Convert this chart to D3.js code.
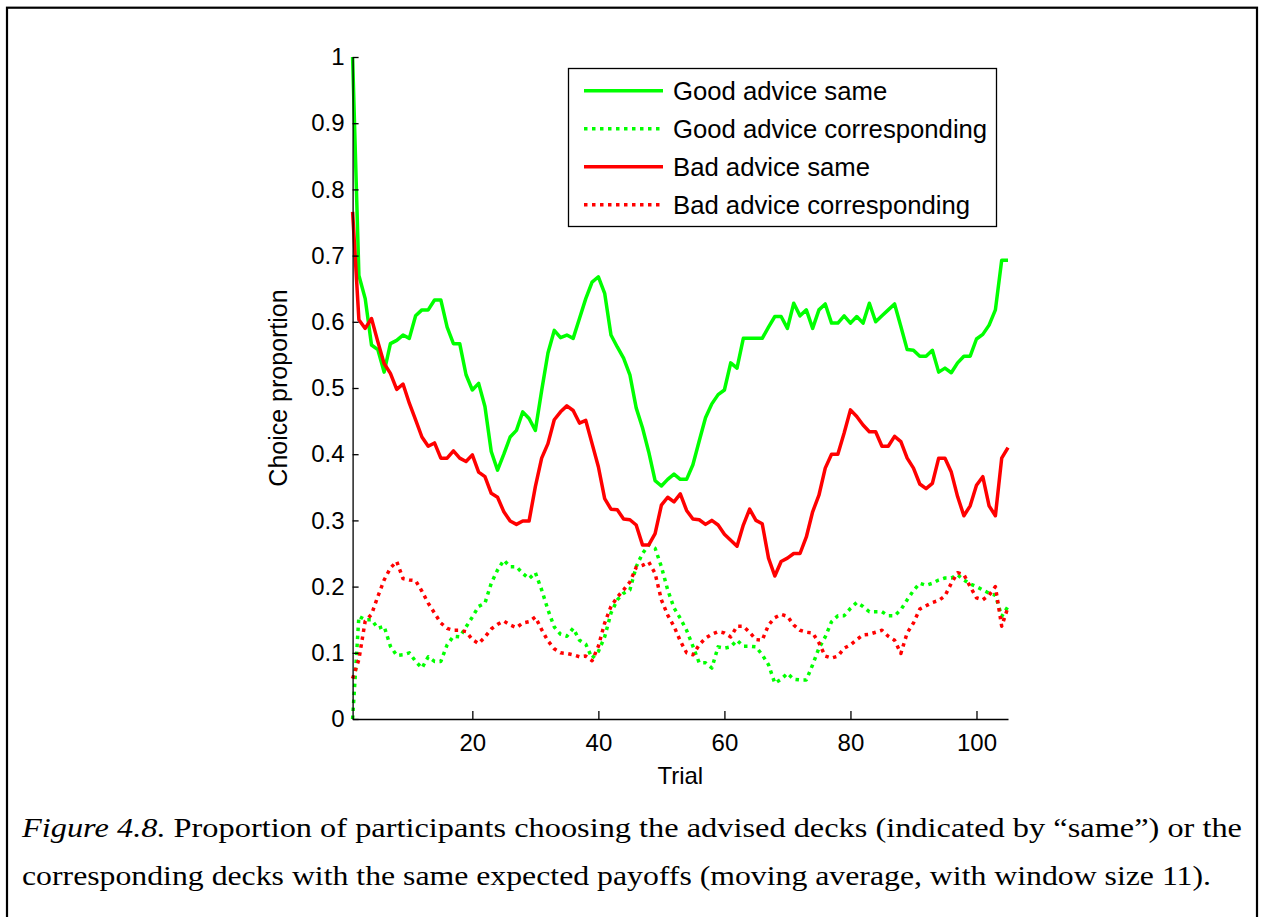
<!DOCTYPE html>
<html>
<head>
<meta charset="utf-8">
<script src="https://cdn.jsdelivr.net/npm/d3@7"></script>
<style>
  html, body { margin: 0; padding: 0; background: #fff; }
  svg { display: block; }
  .sans { font-family: Arial, "Liberation Sans", Helvetica, sans-serif; }
  .serif { font-family: "Times New Roman", "Liberation Serif", serif; }
</style>
</head>
<body>
<svg id="chart" width="1263" height="917"></svg>
<script>
// ---- data ----
const trials = d3.range(1, 106);
const seriesNames = ["Good advice same", "Good advice corresponding", "Bad advice same", "Bad advice corresponding"];
const goodSame = [1.0,0.67,0.635,0.565,0.558,0.524,0.567,0.572,0.58,0.575,
  0.609,0.618,0.618,0.633,0.633,0.592,0.567,0.567,0.52,0.497,
  0.507,0.472,0.404,0.376,0.40,0.426,0.436,0.464,0.454,0.436,
  0.496,0.553,0.587,0.576,0.58,0.575,0.605,0.635,0.66,0.668,
  0.643,0.58,0.562,0.545,0.52,0.47,0.44,0.403,0.36,0.352,
  0.362,0.37,0.362,0.362,0.384,0.42,0.455,0.476,0.49,0.497,
  0.538,0.53,0.575,0.575,0.575,0.575,0.592,0.608,0.608,0.59,
  0.628,0.609,0.618,0.59,0.618,0.627,0.598,0.598,0.609,0.598,
  0.608,0.598,0.628,0.6,0.609,0.618,0.627,0.593,0.558,0.557,
  0.548,0.548,0.557,0.524,0.53,0.523,0.538,0.548,0.548,0.574,
  0.581,0.595,0.618,0.693,0.693];
const goodCorr = [0,0.155,0.15,0.15,0.137,0.14,0.11,0.096,0.097,0.1,
  0.087,0.077,0.094,0.087,0.087,0.112,0.125,0.124,0.139,0.154,
  0.17,0.175,0.205,0.225,0.24,0.23,0.23,0.22,0.212,0.221,
  0.195,0.165,0.139,0.128,0.125,0.137,0.119,0.113,0.092,0.102,
  0.124,0.16,0.18,0.19,0.195,0.23,0.25,0.263,0.258,0.23,
  0.195,0.168,0.152,0.134,0.11,0.085,0.085,0.077,0.109,0.107,
  0.109,0.119,0.11,0.11,0.109,0.097,0.082,0.054,0.06,0.069,
  0.06,0.059,0.059,0.082,0.107,0.124,0.147,0.156,0.156,0.167,
  0.176,0.17,0.162,0.162,0.162,0.156,0.156,0.165,0.18,0.194,
  0.205,0.202,0.205,0.21,0.213,0.213,0.218,0.21,0.204,0.2,
  0.195,0.19,0.187,0.155,0.17];
const badSame = [0.766,0.603,0.59,0.605,0.57,0.537,0.522,0.498,0.506,0.477,
  0.452,0.426,0.412,0.417,0.394,0.394,0.405,0.394,0.389,0.399,
  0.373,0.366,0.341,0.335,0.313,0.299,0.294,0.299,0.299,0.351,
  0.394,0.416,0.452,0.464,0.473,0.466,0.447,0.451,0.416,0.381,
  0.333,0.317,0.316,0.302,0.301,0.293,0.263,0.263,0.28,0.323,
  0.335,0.328,0.34,0.315,0.302,0.301,0.294,0.3,0.293,0.279,
  0.27,0.261,0.293,0.317,0.3,0.295,0.243,0.216,0.238,0.243,
  0.25,0.25,0.275,0.313,0.338,0.379,0.4,0.4,0.432,0.467,
  0.457,0.444,0.434,0.434,0.412,0.412,0.427,0.419,0.394,0.379,
  0.355,0.348,0.356,0.394,0.394,0.373,0.336,0.307,0.322,0.353,
  0.366,0.322,0.307,0.394,0.41];
const badCorr = [0.061,0.09,0.148,0.158,0.185,0.21,0.228,0.238,0.212,0.21,
  0.209,0.193,0.175,0.16,0.145,0.137,0.134,0.134,0.132,0.12,
  0.114,0.124,0.136,0.143,0.148,0.142,0.138,0.145,0.147,0.154,
  0.135,0.118,0.106,0.1,0.099,0.097,0.094,0.095,0.088,0.11,
  0.145,0.17,0.184,0.195,0.207,0.229,0.232,0.237,0.22,0.18,
  0.157,0.14,0.118,0.1,0.097,0.112,0.122,0.128,0.132,0.13,
  0.124,0.14,0.14,0.131,0.12,0.119,0.142,0.153,0.158,0.155,
  0.142,0.134,0.131,0.13,0.115,0.095,0.092,0.095,0.107,0.112,
  0.12,0.127,0.128,0.131,0.134,0.125,0.119,0.099,0.13,0.145,
  0.166,0.171,0.176,0.179,0.186,0.205,0.221,0.218,0.2,0.183,
  0.18,0.187,0.2,0.14,0.169];
const xTicks = [20, 40, 60, 80, 100];
const yTicks = [0, 0.1, 0.2, 0.3, 0.4, 0.5, 0.6, 0.7, 0.8, 0.9, 1];

// ---- drawing ----
const svg = d3.select("#chart");
svg.append("rect").attr("width", 1263).attr("height", 917).attr("fill", "#fff");
// outer frame
svg.append("rect").attr("x", 7).attr("y", 7.7).attr("width", 1250).attr("height", 1000)
  .attr("fill", "none").attr("stroke", "#000").attr("stroke-width", 2.2);

const x = d3.scaleLinear().domain([1, 105]).range([352.6, 1008]);
const y = d3.scaleLinear().domain([0, 1]).range([719, 57]);

const series = [
  {name: seriesNames[0], values: goodSame, color: "#00ff00", dash: null},
  {name: seriesNames[1], values: goodCorr, color: "#00ff00", dash: "3.5,4.5"},
  {name: seriesNames[2], values: badSame, color: "#ff0000", dash: null},
  {name: seriesNames[3], values: badCorr, color: "#ff0000", dash: "3.5,4.5"}
];

const line = d3.line().x((d, i) => x(trials[i])).y(d => y(d));
series.forEach(s => {
  svg.append("path").attr("d", line(s.values))
    .attr("fill", "none").attr("stroke", s.color).attr("stroke-width", 3.5)
    .attr("stroke-linejoin", "round")
    .attr("stroke-dasharray", s.dash);
});

// axes
const yAxis = d3.axisLeft(y).tickValues(yTicks).tickSize(-6).tickSizeOuter(0).tickPadding(8)
  .tickFormat(d => String(+d.toFixed(1)));
const xAxis = d3.axisBottom(x).tickValues(xTicks).tickSize(-8).tickSizeOuter(0).tickPadding(15)
  .tickFormat(d3.format("d"));
const gy = svg.append("g").attr("transform", `translate(${x(1)},0)`).call(yAxis);
const gx = svg.append("g").attr("transform", `translate(0,${y(0)})`).call(xAxis);
[gx, gy].forEach(g => {
  g.selectAll("path.domain").attr("stroke", "#000").attr("stroke-width", 1.3);
  g.selectAll(".tick line").attr("stroke", "#000").attr("stroke-width", 1.3);
  g.selectAll(".tick text").attr("fill", "#000")
    .style("font-family", 'Arial, "Liberation Sans", sans-serif').style("font-size", "24px");
});

// axis labels
svg.append("text").attr("class", "sans").attr("x", (x(1) + x(105)) / 2).attr("y", 784)
  .attr("text-anchor", "middle").style("font-size", "24px").text("Trial");
svg.append("text").attr("class", "sans")
  .attr("transform", `translate(287,${(y(0) + y(1)) / 2}) rotate(-90)`)
  .attr("text-anchor", "middle").style("font-size", "25px").text("Choice proportion");

// legend
const lg = svg.append("g");
lg.append("rect").attr("x", 568.5).attr("y", 68.5).attr("width", 428).attr("height", 158)
  .attr("fill", "#fff").attr("stroke", "#000").attr("stroke-width", 1.3);
series.forEach((s, i) => {
  const yy = 90.7 + i * 38;
  lg.append("line").attr("x1", 584).attr("x2", 663).attr("y1", yy).attr("y2", yy)
    .attr("stroke", s.color).attr("stroke-width", 3.5).attr("stroke-dasharray", s.dash);
  lg.append("text").attr("class", "sans").attr("x", 673).attr("y", yy + 8.8)
    .style("font-size", "25.7px").text(s.name);
});

// caption
const cap1 = svg.append("text").attr("class", "serif").attr("x", 22).attr("y", 837)
  .style("font-size", "27px").attr("textLength", 1220).attr("lengthAdjust", "spacingAndGlyphs");
cap1.append("tspan").style("font-style", "italic").text("Figure 4.8.");
cap1.append("tspan").text(" Proportion of participants choosing the advised decks (indicated by \u201csame\u201d) or the");
svg.append("text").attr("class", "serif").attr("x", 22).attr("y", 885)
  .style("font-size", "27px").attr("textLength", 1189).attr("lengthAdjust", "spacingAndGlyphs")
  .text("corresponding decks with the same expected payoffs (moving average, with window size 11).");
</script>
</body>
</html>
